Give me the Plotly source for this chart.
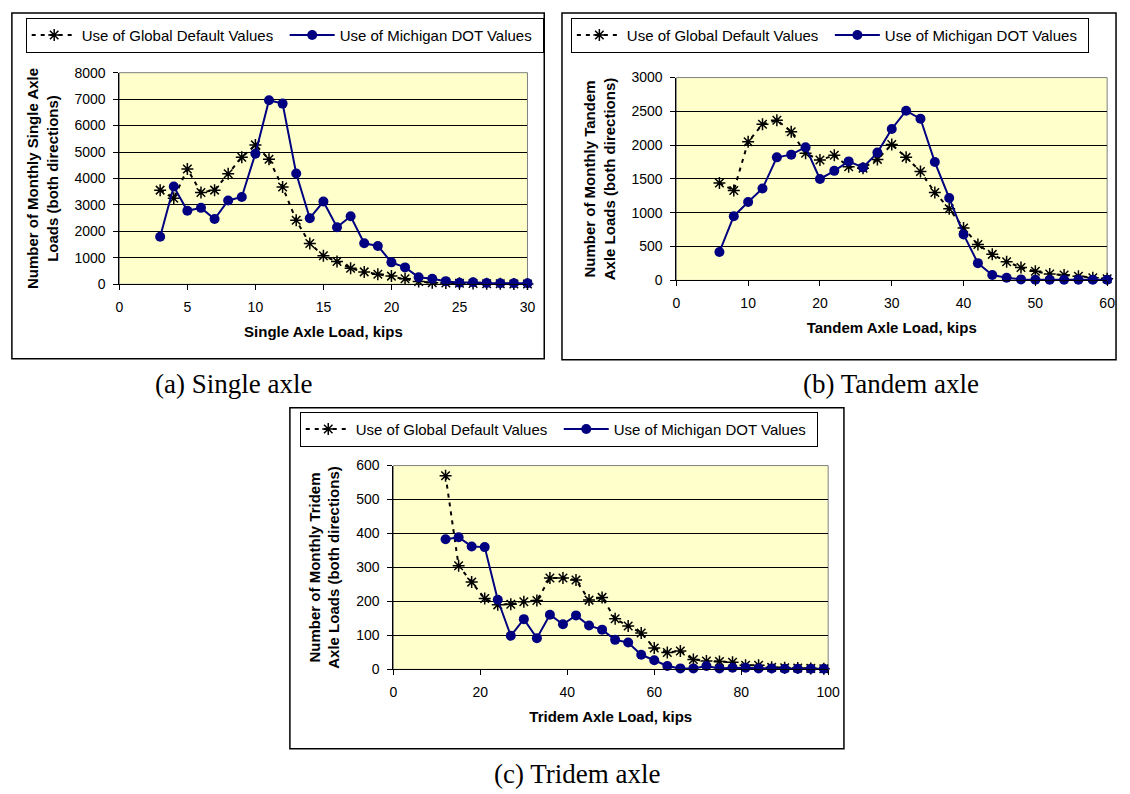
import plotly.graph_objects as go

W, H = 1130, 794

# ---------------- data ----------------
single_x = [3, 4, 5, 6, 7, 8, 9, 10, 11, 12, 13, 14, 15, 16, 17, 18, 19, 20,
            21, 22, 23, 24, 25, 26, 27, 28, 29, 30]
single_global = [3560, 3250, 4360, 3470, 3560, 4180, 4800, 5270, 4730, 3680,
                 2420, 1540, 1080, 860, 610, 470, 380, 310, 210, 110,
                 60, 50, 40, 30, 20, 20, 10, 10]
single_mdot = [1800, 3700, 2780, 2890, 2470, 3170, 3300, 4940, 6960, 6830,
               4190, 2500, 3130, 2160, 2570, 1550, 1450, 830, 640, 270,
               210, 120, 60, 80, 50, 40, 40, 40]

tandem_x = [6, 8, 10, 12, 14, 16, 18, 20, 22, 24, 26, 28, 30, 32, 34, 36, 38,
            40, 42, 44, 46, 48, 50, 52, 54, 56, 58, 60]
tandem_global = [1440, 1330, 2050, 2310, 2370, 2200, 1880, 1780, 1850, 1680,
                 1660, 1790, 2010, 1820, 1610, 1300, 1060, 775, 530, 385,
                 275, 190, 135, 95, 80, 60, 40, 25]
tandem_mdot = [420, 950, 1160, 1360, 1820, 1860, 1970, 1500, 1620, 1760,
               1670, 1890, 2240, 2510, 2390, 1750, 1220, 680, 255, 80,
               40, 15, 10, 10, 10, 10, 10, 10]

tridem_x = [12, 15, 18, 21, 24, 27, 30, 33, 36, 39, 42, 45, 48, 51, 54, 57,
            60, 63, 66, 69, 72, 75, 78, 81, 84, 87, 90, 93, 96, 99]
tridem_global = [570, 305, 257, 209, 190, 192, 199, 203, 269, 269, 263, 204,
                 212, 149, 128, 107, 63, 50, 54, 29, 25, 23, 21, 12, 12,
                 6, 5, 4, 3, 2]
tridem_mdot = [383, 389, 362, 360, 205, 99, 148, 92, 161, 133, 159, 129, 117,
               87, 79, 43, 27, 10, 3, 3, 10, 3, 5, 5, 3, 3, 2, 2, 2, 2]

series_names = ["Use of Global Default Values", "Use of Michigan DOT Values"]
x_titles = ["Single Axle Load, kips", "Tandem Axle Load, kips", "Tridem Axle Load, kips"]
y_titles = ["Number of Monthly Single Axle<br>Loads (both directions)",
            "Number of Monthly Tandem<br>Axle Loads (both directions)",
            "Number of Monthly Tridem<br>Axle Loads (both directions)"]
captions = ["(a) Single axle", "(b) Tandem axle", "(c) Tridem axle"]
x_ranges = [(0, 30, 5), (0, 60, 10), (0, 100, 20)]
y_ranges = [(0, 8000, 1000), (0, 3000, 500), (0, 600, 100)]

# ---------------- layout geometry (pixels) ----------------
def px(x):
    return x / W

def py(y):
    return 1 - y / H

# plot areas: left, right, top, bottom
areas = [(117, 531, 66, 282), (682, 1119, 71, 278), (395, 836, 467, 675)]
# outer panel boxes
boxes = [(8, 548, 5, 358), (566, 1128, 5, 359), (290, 852, 408, 756)]
# legend top-left corners
legend_pos = [(22, 10), (575, 10), (300, 412)]
caption_pos = [(233, 384), (900, 384), (581, 782)]

FONT = "Arial, Liberation Sans, sans-serif"
NAVY = "#000080"

data = [(single_x, single_global, single_mdot),
        (tandem_x, tandem_global, tandem_mdot),
        (tridem_x, tridem_global, tridem_mdot)]

fig = go.Figure()
legend_ids = ["legend", "legend2", "legend3"]

for i, (xs, g, m) in enumerate(data):
    xa = "x" if i == 0 else f"x{i+1}"
    ya = "y" if i == 0 else f"y{i+1}"
    fig.add_trace(go.Scatter(
        x=xs, y=g, name=series_names[0], xaxis=xa, yaxis=ya,
        mode="lines+markers", cliponaxis=False,
        line=dict(color="black", width=2, dash="4px,5px"),
        marker=dict(symbol="asterisk-open", size=10, color="black",
                    line=dict(color="black", width=1.5)),
        legend=legend_ids[i]))
    fig.add_trace(go.Scatter(
        x=xs, y=m, name=series_names[1], xaxis=xa, yaxis=ya,
        mode="lines+markers", cliponaxis=False,
        line=dict(color=NAVY, width=2),
        marker=dict(symbol="circle", size=10, color=NAVY),
        legend=legend_ids[i]))

layout = dict(
    width=W, height=H,
    margin=dict(l=0, r=0, t=0, b=0),
    paper_bgcolor="white",
    plot_bgcolor="#FFFFCC",
    font=dict(family=FONT, size=14, color="black"),
    shapes=[], annotations=[],
)

for i in range(3):
    l, r, t, b = areas[i]
    xk = "xaxis" if i == 0 else f"xaxis{i+1}"
    yk = "yaxis" if i == 0 else f"yaxis{i+1}"
    xa = "x" if i == 0 else f"x{i+1}"
    ya = "y" if i == 0 else f"y{i+1}"
    x0, x1, dx = x_ranges[i]
    y0, y1, dy = y_ranges[i]
    layout[xk] = dict(
        domain=[px(l), px(r)], anchor=ya, range=[x0, x1], dtick=dx, tick0=0,
        showgrid=False, zeroline=False, showline=True, linecolor="black",
        linewidth=1, ticks="outside", ticklen=5, tickcolor="black",
        tickfont=dict(size=14), ticklabelstandoff=5,
        title=dict(text=f"<b>{x_titles[i]}</b>", font=dict(size=15), standoff=12),
    )
    layout[yk] = dict(
        domain=[py(b), py(t)], anchor=xa, range=[y0, y1], dtick=dy, tick0=0,
        showgrid=True, gridcolor="black", gridwidth=1, zeroline=False,
        showline=True, linecolor="black", linewidth=1, ticks="outside",
        ticklen=5, tickcolor="black", tickfont=dict(size=14),
        ticklabelstandoff=5,
        title=dict(text=f"<b>{y_titles[i]}</b>", font=dict(size=15), standoff=12),
    )
    # plot-area border (gray)
    layout["shapes"].append(dict(type="rect", xref="paper", yref="paper",
                                 x0=px(l), x1=px(r), y0=py(b), y1=py(t),
                                 line=dict(color="#808080", width=1),
                                 layer="below"))
    # outer panel box
    bl, br, bt, bb = boxes[i]
    layout["shapes"].append(dict(type="rect", xref="paper", yref="paper",
                                 x0=px(bl), x1=px(br), y0=py(bb), y1=py(bt),
                                 line=dict(color="black", width=1.5)))
    # legend
    lx, ly = legend_pos[i]
    layout[legend_ids[i]] = dict(
        x=px(lx), y=py(ly), xanchor="left", yanchor="top",
        orientation="h", bgcolor="white", bordercolor="black", borderwidth=1,
        font=dict(size=15, family=FONT), itemwidth=45,
        entrywidth=198, entrywidthmode="pixels", tracegroupgap=0,
    )
    # caption
    cx, cy = caption_pos[i]
    layout["annotations"].append(dict(
        text=captions[i], x=px(cx), y=py(cy), xref="paper", yref="paper",
        showarrow=False, xanchor="center", yanchor="middle",
        font=dict(family="Liberation Serif, Times New Roman, serif", size=27)))

fig.update_layout(**layout)
fig.write_html("out.html")
